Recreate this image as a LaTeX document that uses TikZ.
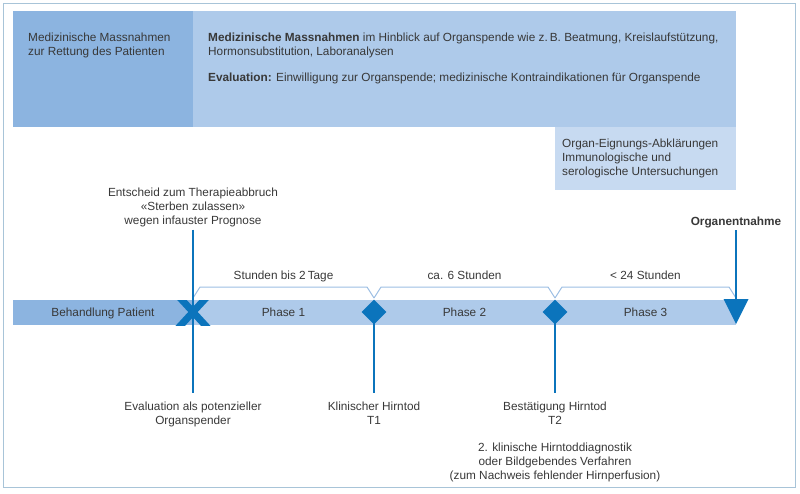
\documentclass[tikz,border=0pt]{standalone}
\usepackage{fontspec}
\setmainfont{Liberation Sans}
\usetikzlibrary{shapes.geometric,shapes.misc,calc}
\definecolor{framegray}{HTML}{A8C4D8}
\definecolor{darkbox}{HTML}{8CB4E0}
\definecolor{lightbox}{HTML}{AECAEA}
\definecolor{palebox}{HTML}{C7DAF1}
\definecolor{markblue}{HTML}{0B74BC}
\definecolor{bracecol}{HTML}{9CBEE3}
\definecolor{textgray}{HTML}{383838}
\begin{document}
\begin{tikzpicture}[
            x=1pt, y=-1pt,
            txt/.style={font=\fontsize{11.8}{14}\selectfont, text=textgray},
            boxtext/.style={txt, align=left, anchor=north west, inner sep=0pt},
            tag/.style={txt, align=center, inner sep=2pt},
            barlabel/.style={txt, anchor=base, inner sep=0pt, yshift=-4.5pt},
            spanlabel/.style={txt, anchor=base, inner sep=0pt, yshift=8pt},
            stem/.style={draw=markblue, line width=2pt},
            brace/.style={draw=bracecol, line width=1pt},
            diam/.style={diamond, fill=markblue, minimum size=25pt, inner sep=0pt}
        ]
        \useasboundingbox (0,0) rectangle (800,493);
        \draw[framegray, line width=1.5pt] (3.5,3.5) rectangle (795.5,487.5);
        \fill[darkbox] (13,11) rectangle (193,127);
        \fill[lightbox] (193,11) rectangle (736,127);
        \fill[palebox] (555,127) rectangle (736,190);
        \node[boxtext] (rettung) at (28,32.4) {Medizinische Massnahmen\\zur Rettung des Patienten};
        \node[boxtext] (massnahmen) at (208,32.4) {\textbf{Medizinische Massnahmen} im Hinblick auf Organspende wie z.\,B. Beatmung, Kreislaufstützung,\\Hormonsubstitution, Laboranalysen\\[12pt]\textbf{Evaluation:} Einwilligung zur Organspende; medizinische Kontraindikationen für Organspende};
        \node[boxtext] (eignung) at (562,138.4) {Organ-Eignungs-Abklärungen\\Immunologische und\\serologische Untersuchungen};
        \fill[darkbox] (13,300) rectangle (193,325);
        \fill[lightbox] (193,300) rectangle (736,325);
        \coordinate (b0) at (13,312);
        \coordinate (m0) at (193,312);
        \coordinate (c1) at (374,312);
        \coordinate (c2) at (555,312);
        \coordinate (c3) at (736,312);
        \path (b0) -- node[barlabel] (behandlung) {Behandlung Patient} (m0);
        \path (m0) -- node[barlabel] (phase1) {Phase 1} (c1);
        \path (c1) -- node[barlabel] (phase2) {Phase 2} (c2);
        \path (c2) -- node[barlabel] (phase3) {Phase 3} (c3);
        \draw[brace] ($(m0)+(0,-14)$) -- ($(m0)+(7,-25)$) -- node[spanlabel] (dauer1) {Stunden bis 2\,Tage} ($(c1)+(-7,-25)$) -- ($(c1)+(0,-14)$);
        \draw[brace] ($(c1)+(0,-14)$) -- ($(c1)+(7,-25)$) -- node[spanlabel] (dauer2) {ca. 6 Stunden} ($(c2)+(-7,-25)$) -- ($(c2)+(0,-14)$);
        \draw[brace] ($(c2)+(0,-14)$) -- ($(c2)+(7,-25)$) -- node[spanlabel] (dauer3) {< 24 Stunden} ($(c3)+(-7,-25)$) -- ($(c3)+(0,-14)$);
        \node[tag, anchor=south] (entscheid) at (193,229.5) {Entscheid zum Therapieabbruch\\«Sterben zulassen»\\wegen infauster Prognose};
        \node[tag, anchor=south] (entnahme) at (736,230) {\textbf{Organentnahme}};
        \node[tag, anchor=north] (evaluation) at (193,399.6) {Evaluation als potenzieller\\Organspender};
        \node[tag, anchor=north] (klinisch) at (374,399.6) {Klinischer Hirntod\\T1};
        \node[tag, anchor=north] (bestaetigung) at (555,399.6) {Bestätigung Hirntod\\T2};
        \node[tag, anchor=north] (diagnostik) at (555,440.6) {2. klinische Hirntoddiagnostik\\oder Bildgebendes Verfahren\\(zum Nachweis fehlender Hirnperfusion)};
        \draw[stem] (entscheid.south) -- ([yshift=6.5pt]evaluation.north);
        \draw[stem] (c1) -- ([yshift=6.5pt]klinisch.north);
        \draw[stem] (c2) -- ([yshift=6.5pt]bestaetigung.north);
        \draw[stem] (entnahme.south) -- (c3);
        \begin{scope}
            \clip (13,300) rectangle (736,325);
            \node[cross out, draw=markblue, line width=7pt, minimum width=27pt, minimum height=30pt] (abbruch) at (m0) {};
        \end{scope}
        \node[diam] (t1) at (c1) {};
        \node[diam] (t2) at (c2) {};
        \fill[markblue] ($(c3)+(-12.5,-13)$) -- ($(c3)+(12.5,-13)$) -- ($(c3)+(0,12)$) -- cycle;
    \end{tikzpicture}
\end{document}
